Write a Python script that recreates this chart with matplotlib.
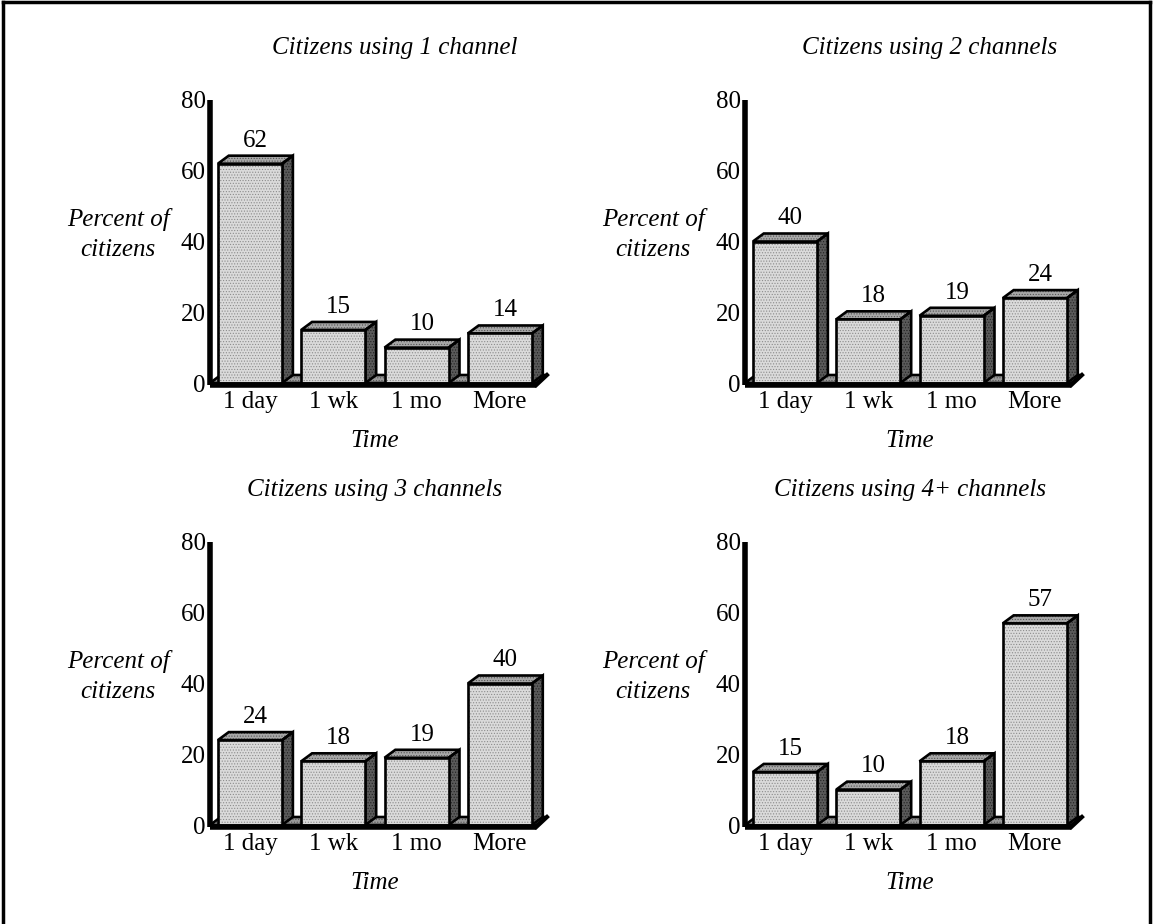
import matplotlib
matplotlib.use("Agg")
import matplotlib.pyplot as plt
from matplotlib.patches import Polygon
from matplotlib.lines import Line2D

categories = ["1 day", "1 wk", "1 mo", "More"]
titles = ["Citizens using 1 channel", "Citizens using 2 channels",
          "Citizens using 3 channels", "Citizens using 4+ channels"]
one_channel = [62, 15, 10, 14]
two_channels = [40, 18, 19, 24]
three_channels = [24, 18, 19, 40]
four_channels = [15, 10, 18, 57]
series = [one_channel, two_channels, three_channels, four_channels]
y_ticks = [0, 20, 40, 60, 80]

plt.rcParams["font.family"] = ["Liberation Serif", "DejaVu Serif"]
plt.rcParams["hatch.linewidth"] = 0.5

W, H = 1153, 924
fig = plt.figure(figsize=(W / 100, H / 100), dpi=100)

# pixel positions of y axis line and baseline for each panel
axis_x = [210, 745, 210, 745]
base_y = [383, 383, 825, 825]
x_lo, x_hi = -0.48, 3.7
px_per_unit = 83.3
ax_h = 283
title_x = [1.74, 1.74, 1.5, 1.5]

w = 0.77      # bar front width (slot units)
dx = 0.13     # depth offset in x
dy = 2.26     # depth offset in y (percent units)

front_c = "#dadada"
top_c = "#a8a8a8"
side_c = "#5a5a5a"
floor_c = "#9a9a9a"
fs = 18


def stipple(ax, verts, face, dots, z):
    # textured fill, then a black outline on top
    ax.add_patch(Polygon(verts, closed=True, facecolor=face, edgecolor=dots,
                         hatch="......", linewidth=0, clip_on=False, zorder=z))
    ax.add_patch(Polygon(verts, closed=True, facecolor="none", edgecolor="black",
                         linewidth=1.9, clip_on=False, zorder=z + 0.1))


for k in range(4):
    left = axis_x[k] / W
    width = (x_hi - x_lo) * px_per_unit / W
    bottom = (H - base_y[k]) / H
    ax = fig.add_axes([left, bottom, width, ax_h / H])
    ax.set_xlim(x_lo, x_hi)
    ax.set_ylim(0, 80)
    for s in ax.spines.values():
        s.set_visible(False)
    ax.set_facecolor("none")

    vals = series[k]
    n = len(vals)
    x_end = n - 1 + w / 2 + 0.05

    # floor
    stipple(ax, [(x_lo, 0), (x_end, 0), (x_end + dx, dy), (x_lo + dx, dy)],
            floor_c, "#555555", 1)
    ax.plot([x_lo, x_end], [-0.6, -0.6], color="black", linewidth=4,
            solid_capstyle="butt", clip_on=False, zorder=5)
    ax.plot([x_end, x_end + dx], [-0.6, dy], color="black", linewidth=3,
            clip_on=False, zorder=5)

    # bars
    for i, v in enumerate(vals):
        xl = i - w / 2
        xr = i + w / 2
        stipple(ax, [(xr, 0), (xr + dx, dy), (xr + dx, v + dy), (xr, v)],
                side_c, "#222222", 3)
        stipple(ax, [(xl, v), (xr, v), (xr + dx, v + dy), (xl + dx, v + dy)],
                top_c, "#555555", 3)
        stipple(ax, [(xl, 0), (xr, 0), (xr, v), (xl, v)],
                front_c, "#8c8c8c", 4)
        ax.annotate(str(v), xy=(i + dx / 2, v + dy), xytext=(0, 3),
                    textcoords="offset points", ha="center", va="bottom",
                    fontsize=fs, zorder=6)

    # y axis line
    ax.plot([x_lo, x_lo], [-0.6, 80], color="black", linewidth=4,
            solid_capstyle="butt", clip_on=False, zorder=6)

    ax.set_yticks(y_ticks)
    ax.set_yticklabels([str(t) for t in y_ticks], fontsize=fs)
    ax.set_xticks(range(n))
    ax.set_xticklabels(categories, fontsize=fs)
    ax.tick_params(axis="y", length=0, pad=3)
    ax.tick_params(axis="x", length=0, pad=6)

    ax.annotate("Time", xy=(1.5, 0), xytext=(0, -42), textcoords="offset points",
                ha="center", va="center", fontsize=fs, style="italic",
                annotation_clip=False)
    ax.annotate("Percent of\ncitizens", xy=(x_lo, 42), xytext=(-66, 0),
                textcoords="offset points", ha="center", va="center",
                fontsize=fs, style="italic", linespacing=1.5,
                annotation_clip=False)
    ax.text(title_x[k], 94.8, titles[k], ha="center", va="center",
            fontsize=fs, style="italic", clip_on=False)

# outer frame (top, left, right)
fig.add_artist(Line2D([3 / W, 3 / W], [0, 1 - 2 / H], color="black", linewidth=2.5))
fig.add_artist(Line2D([1 - 3 / W, 1 - 3 / W], [0, 1 - 2 / H], color="black", linewidth=2.5))
fig.add_artist(Line2D([3 / W, 1 - 3 / W], [1 - 2 / H, 1 - 2 / H], color="black", linewidth=2.5))

fig.savefig("out.png", dpi=100)
